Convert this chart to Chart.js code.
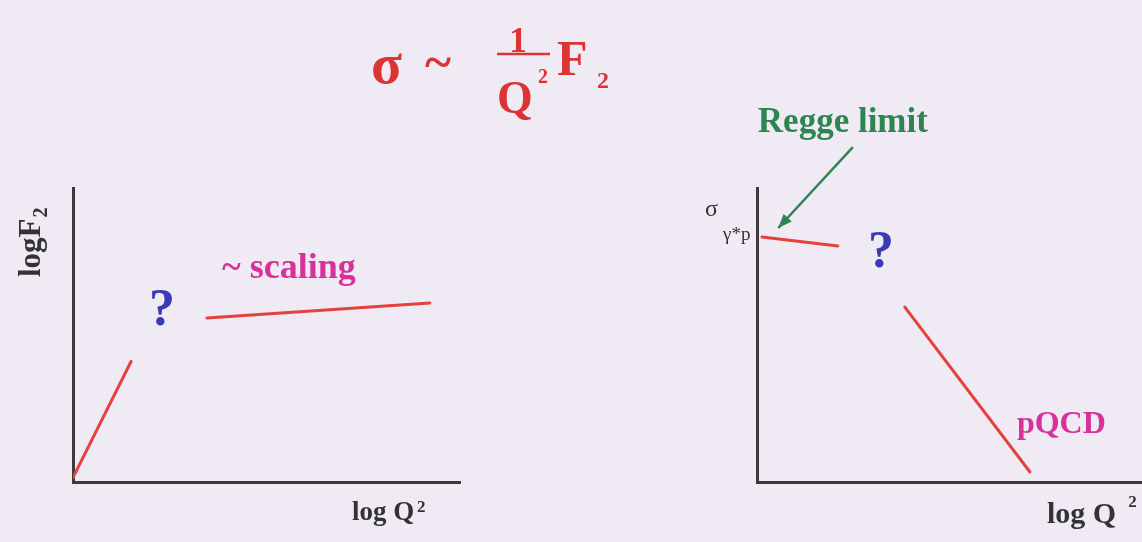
<!DOCTYPE html>
<html>
<head>
<meta charset="utf-8">
<script src="https://cdn.jsdelivr.net/npm/chart.js@4/dist/chart.umd.min.js"></script>
<style>
  html, body { margin: 0; padding: 0; background: #efeaf4; }
  #wrap { position: relative; width: 1142px; height: 542px; overflow: hidden; }
  #wrap canvas { position: absolute; left: 0; top: 0; }
</style>
</head>
<body>
<div id="wrap">
  <canvas id="f2Chart" width="1142" height="542"></canvas>
  <canvas id="sigmaChart" width="1142" height="542"></canvas>
</div>
<script>
// Sketch values, arbitrary log units on both axes
const axisRange = [0, 10];

// log F2 versus log Q^2
const f2LowQ    = [{ x: 0.0,  y: 0.15 }, { x: 1.5,  y: 4.1 }];
const f2Scaling = [{ x: 3.46, y: 5.58 }, { x: 9.22, y: 6.09 }];

// sigma(gamma* p) versus log Q^2
const sigmaRegge = [{ x: 0.13, y: 8.33 }, { x: 2.10, y: 8.03 }];
const sigmaPqcd  = [{ x: 3.84, y: 5.95 }, { x: 7.09, y: 0.34 }];
const reggeArrow = [{ x: 2.49, y: 11.39 }, { x: 0.55, y: 8.64 }];

const SERIF = "'Liberation Serif', 'DejaVu Serif', serif";
const RED = '#e5413d';
const MAGENTA = '#d8329a';
const BLUE = '#3a3ab4';
const GREEN = '#2e8552';
const INK = '#333333';

function axes() {
  const one = (position) => ({
    type: 'linear', position,
    min: axisRange[0], max: axisRange[1],
    grid: { display: false, drawTicks: false },
    ticks: { display: false },
    border: { display: true, color: '#3a3a3a', width: 3 }
  });
  return { x: one('bottom'), y: one('left') };
}

function segment(data, color, extra) {
  return Object.assign({
    data, showLine: true, borderColor: color, backgroundColor: color,
    borderWidth: 3, pointRadius: 0, borderCapStyle: 'round', tension: 0
  }, extra || {});
}

// Text placed in data units through the chart's own scales
function labelPlugin(items) {
  return {
    id: 'sketchLabels',
    afterDatasetsDraw(chart) {
      const { ctx, scales: { x, y } } = chart;
      ctx.save();
      ctx.textBaseline = 'alphabetic';
      for (const t of items) {
        const px = x.getPixelForValue(t.x), py = y.getPixelForValue(t.y);
        ctx.font = t.font;
        ctx.fillStyle = t.color;
        ctx.textAlign = t.align || 'left';
        if (t.rotate) {
          ctx.save();
          ctx.translate(px, py);
          ctx.rotate(t.rotate);
          ctx.fillText(t.text, 0, 0);
          if (t.sub) {
            const w = ctx.measureText(t.text).width;
            ctx.font = t.sub.font;
            ctx.fillText(t.sub.text, w + 1, t.sub.dy);
          }
          ctx.restore();
        } else {
          ctx.fillText(t.text, px, py);
        }
      }
      ctx.restore();
    }
  };
}

// Arrowhead at the end of datasets flagged with "arrow"
const arrowPlugin = {
  id: 'arrowHeads',
  afterDatasetsDraw(chart) {
    const ctx = chart.ctx;
    chart.data.datasets.forEach((ds, i) => {
      if (!ds.arrow) return;
      const pts = chart.getDatasetMeta(i).data;
      const a = pts[pts.length - 2], b = pts[pts.length - 1];
      const ang = Math.atan2(b.y - a.y, b.x - a.x);
      const len = 14, half = 5.5;
      ctx.save();
      ctx.fillStyle = ds.borderColor;
      ctx.translate(b.x, b.y);
      ctx.rotate(ang);
      ctx.beginPath();
      ctx.moveTo(0, 0);
      ctx.lineTo(-len, -half);
      ctx.lineTo(-len, half);
      ctx.closePath();
      ctx.fill();
      ctx.restore();
    });
  }
};

// Heading formula: sigma ~ (1/Q^2) F2
const formulaPlugin = {
  id: 'formula',
  afterDraw(chart) {
    const ctx = chart.ctx;
    ctx.save();
    ctx.fillStyle = '#dc3434';
    ctx.strokeStyle = '#dc3434';
    ctx.textBaseline = 'alphabetic';
    ctx.textAlign = 'left';
    ctx.font = `bold 57px ${SERIF}`;
    ctx.fillText('σ', 371, 83);
    ctx.font = `bold 50px ${SERIF}`;
    ctx.fillText('~', 425, 79);
    ctx.font = `bold 36px ${SERIF}`;
    ctx.textAlign = 'center';
    ctx.fillText('1', 518, 52);
    ctx.lineWidth = 2.5;
    ctx.beginPath();
    ctx.moveTo(497, 54);
    ctx.lineTo(550, 54);
    ctx.stroke();
    ctx.textAlign = 'left';
    ctx.font = `bold 46px ${SERIF}`;
    ctx.fillText('Q', 497, 113);
    ctx.font = `bold 20px ${SERIF}`;
    ctx.fillText('2', 538, 83);
    ctx.font = `bold 50px ${SERIF}`;
    ctx.fillText('F', 557, 75);
    ctx.font = `bold 24px ${SERIF}`;
    ctx.fillText('2', 597, 88);
    ctx.restore();
  }
};

const common = {
  responsive: false,
  animation: false,
  events: [],
  plugins: { legend: { display: false }, tooltip: { enabled: false } }
};

new Chart(document.getElementById('f2Chart'), {
  type: 'scatter',
  data: {
    datasets: [
      segment(f2LowQ, RED),
      segment(f2Scaling, RED)
    ]
  },
  options: Object.assign({}, common, {
    layout: { padding: { left: 73, top: 188, right: 682, bottom: 60 } },
    scales: axes()
  }),
  plugins: [
    formulaPlugin,
    labelPlugin([
      { text: '?', x: 2.30, y: 5.34, font: `bold 52px ${SERIF}`, color: BLUE, align: 'center' },
      { text: '~ scaling', x: 3.85, y: 6.94, font: `bold 36px ${SERIF}`, color: MAGENTA },
      { text: 'log Q', x: 7.21, y: -1.29, font: `bold 27px ${SERIF}`, color: INK },
      { text: '2', x: 8.89, y: -1.02, font: `bold 17px ${SERIF}`, color: INK },
      { text: 'logF', x: -0.86, y: 6.97, rotate: -Math.PI / 2, font: `bold 31px ${SERIF}`, color: INK,
        sub: { text: '2', font: `bold 20px ${SERIF}`, dy: 7 } }
    ])
  ]
});

new Chart(document.getElementById('sigmaChart'), {
  type: 'scatter',
  data: {
    datasets: [
      segment(sigmaRegge, RED),
      segment(sigmaPqcd, RED),
      segment(reggeArrow, GREEN, { borderWidth: 2.5, clip: false, arrow: true, borderCapStyle: 'butt' })
    ]
  },
  options: Object.assign({}, common, {
    layout: { padding: { left: 757, top: 188, right: 0, bottom: 60 } },
    scales: axes()
  }),
  plugins: [
    arrowPlugin,
    labelPlugin([
      { text: '?', x: 3.22, y: 7.31, font: `bold 52px ${SERIF}`, color: BLUE, align: 'center' },
      { text: 'pQCD', x: 6.75, y: 1.67, font: `bold 32px ${SERIF}`, color: MAGENTA },
      { text: 'Regge limit', x: 2.23, y: 11.90, font: `bold 35px ${SERIF}`, color: GREEN, align: 'center' },
      { text: 'log Q', x: 7.53, y: -1.39, font: `bold 30px ${SERIF}`, color: INK },
      { text: '2', x: 9.64, y: -0.85, font: `bold 17px ${SERIF}`, color: INK },
      { text: 'σ', x: -1.35, y: 9.05, font: `24px ${SERIF}`, color: INK },
      { text: 'γ*p', x: -0.88, y: 8.23, font: `19px ${SERIF}`, color: INK }
    ])
  ]
});
</script>
</body>
</html>
